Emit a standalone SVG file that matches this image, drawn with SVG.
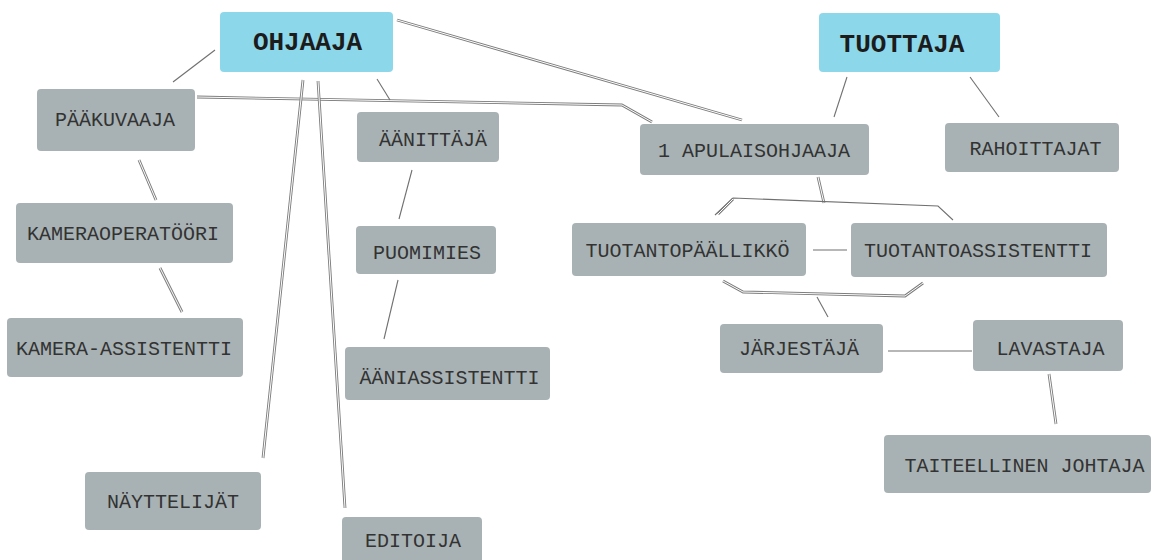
<svg xmlns="http://www.w3.org/2000/svg" width="1153" height="560" viewBox="0 0 1153 560">
<style>
.n rect{fill:#a8b2b4;}
.h rect{fill:#8dd7eb;}
text{font-family:"Liberation Mono","Courier New",monospace;font-size:20px;fill:#333333;text-anchor:middle;}
.h text{font-size:26px;font-weight:bold;fill:#1c1c1c;}
.o{fill:none;stroke:#7c7c7c;stroke-width:2.8;stroke-linejoin:round;}
.i{fill:none;stroke:#ffffff;stroke-width:1;stroke-linejoin:round;}
.s{fill:none;stroke:#707070;stroke-width:1.1;}
</style>
<rect width="1153" height="560" fill="#ffffff"/>
<g id="connectors">
  <path class="s" d="M215,50 L173,82"/>
  <path class="o" d="M197,97 L622,105 L652,122"/><path class="i" d="M197,97 L622,105 L652,122"/>
  <path class="o" d="M397,20 L742,120"/><path class="i" d="M397,20 L742,120"/>
  <path class="s" d="M377,79 L390,100"/>
  <path class="o" d="M303,80 L263,458"/><path class="i" d="M303,80 L263,458"/>
  <path class="o" d="M318,81 L345,508"/><path class="i" d="M318,81 L345,508"/>
  <path class="o" d="M139,160 L156,200"/><path class="i" d="M139,160 L156,200"/>
  <path class="o" d="M160,268 L182,312"/><path class="i" d="M160,268 L182,312"/>
  <path class="s" d="M412,170 L399,219"/>
  <path class="s" d="M398,280 L384,339"/>
  <path class="s" d="M847,77 L834,117"/>
  <path class="s" d="M970,77 L999,117"/>
  <path class="o" d="M818,177 L824,203"/><path class="i" d="M818,177 L824,203"/>
  <path class="s" d="M715,215 L733,198 L938,206 L953,220"/>
  <path class="o" d="M718,214 L733,199"/><path class="i" d="M718,214 L733,199"/>
  <path class="s" d="M813,250 L847,250"/>
  <path class="o" d="M723,281 L743,292 L905,296 L923,283"/><path class="i" d="M723,281 L743,292 L905,296 L923,283"/>
  <path class="s" d="M817,297 L828,317"/>
  <path class="s" d="M888,351 L972,351"/>
  <path class="o" d="M1049,374 L1056,424"/><path class="i" d="M1049,374 L1056,424"/>
</g>
<g id="ohjaaja" class="h"><rect x="220" y="12" width="173" height="60" rx="4"/><text x="307.5" y="50">OHJAAJA</text></g>
<g id="tuottaja" class="h"><rect x="819" y="13" width="181" height="59" rx="4"/><text x="902" y="52">TUOTTAJA</text></g>
<g id="paakuvaaja" class="n"><rect x="37" y="89" width="158" height="62" rx="4"/><text x="115" y="126">PÄÄKUVAAJA</text></g>
<g id="kameraoperaattori" class="n"><rect x="16" y="203" width="217" height="60" rx="4"/><text x="123" y="240">KAMERAOPERATÖÖRI</text></g>
<g id="kamera-assistentti" class="n"><rect x="7" y="318" width="236" height="59" rx="4"/><text x="124" y="355">KAMERA-ASSISTENTTI</text></g>
<g id="aanittaja" class="n"><rect x="357" y="112" width="142" height="50" rx="4"/><text x="433" y="146">ÄÄNITTÄJÄ</text></g>
<g id="puomimies" class="n"><rect x="356" y="226" width="140" height="48" rx="4"/><text x="427" y="259">PUOMIMIES</text></g>
<g id="aaniassistentti" class="n"><rect x="345" y="347" width="205" height="53" rx="4"/><text x="449.5" y="384">ÄÄNIASSISTENTTI</text></g>
<g id="nayttelijat" class="n"><rect x="85" y="472" width="176" height="58" rx="4"/><text x="173" y="508">NÄYTTELIJÄT</text></g>
<g id="editoija" class="n"><rect x="342" y="517" width="140" height="50" rx="4"/><text x="413" y="547">EDITOIJA</text></g>
<g id="apulaisohjaaja" class="n"><rect x="640" y="124" width="229" height="51" rx="4"/><text x="754" y="157">1 APULAISOHJAAJA</text></g>
<g id="rahoittajat" class="n"><rect x="945" y="123" width="174" height="49" rx="4"/><text x="1035.5" y="155">RAHOITTAJAT</text></g>
<g id="tuotantopaallikko" class="n"><rect x="572" y="223" width="234" height="53" rx="4"/><text x="687.5" y="257">TUOTANTOPÄÄLLIKKÖ</text></g>
<g id="tuotantoassistentti" class="n"><rect x="851" y="223" width="256" height="54" rx="4"/><text x="978" y="257">TUOTANTOASSISTENTTI</text></g>
<g id="jarjestaja" class="n"><rect x="720" y="324" width="163" height="49" rx="4"/><text x="799" y="355">JÄRJESTÄJÄ</text></g>
<g id="lavastaja" class="n"><rect x="973" y="320" width="150" height="51" rx="4"/><text x="1050.5" y="355">LAVASTAJA</text></g>
<g id="taiteellinen-johtaja" class="n"><rect x="884" y="435" width="267" height="58" rx="4"/><text x="1024.5" y="471.5">TAITEELLINEN JOHTAJA</text></g>
</svg>
